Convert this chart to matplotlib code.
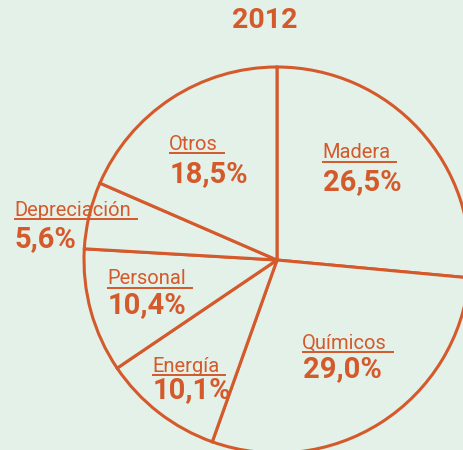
import matplotlib
matplotlib.use("Agg")
import matplotlib.pyplot as plt

# data (2012 cost breakdown)
categories = ["Madera", "Químicos", "Energía", "Personal", "Depreciación", "Otros"]
shares = [26.5, 29.0, 10.1, 10.4, 5.6, 18.5]
title = "2012"

# label anchor (left x, name y, value y) in pixel coords, y measured from top
label_pos = [
    (322, 153, 182),
    (302, 343, 369),
    (152, 366, 390),
    (107, 279, 305),
    (14, 210, 239),
    (169, 144, 174),
]

W, H = 463, 450
BG = "#e4f1e9"
ORANGE = "#d4592b"

plt.rcParams["font.family"] = ["Roboto", "DejaVu Sans"]

fig = plt.figure(figsize=(W / 100, H / 100), dpi=100, facecolor=BG)
ax = fig.add_axes([0, 0, 1, 1])
ax.set_facecolor(BG)

# pie centre / radius in pixels (y flipped so 0 is bottom)
cx, cy, r = 277, H - 260, 193
ax.pie(shares, startangle=90, counterclock=False, center=(cx, cy), radius=r,
       colors=[BG] * len(shares), frame=True,
       wedgeprops=dict(edgecolor=ORANGE, linewidth=2.2))

ax.set_xlim(0, W)
ax.set_ylim(0, H)
ax.set_aspect("equal")
ax.axis("off")

ax.text(265, H - 21, title, ha="center", va="center", fontsize=20.5,
        fontweight="bold", color=ORANGE)

name_texts = []
for cat, val, (x, yn, yv) in zip(categories, shares, label_pos):
    t = ax.text(x, H - yn, cat, ha="left", va="center", fontsize=14.5, color=ORANGE)
    name_texts.append((t, H - yn))
    pct = f"{val:.1f}".replace(".", ",") + "%"
    ax.text(x + 1, H - yv, pct, ha="left", va="center", fontsize=21,
            fontweight="bold", color=ORANGE)

# underline each category name, running a little past the text
fig.canvas.draw()
renderer = fig.canvas.get_renderer()
inv = ax.transData.inverted()
for t, y in name_texts:
    bb = t.get_window_extent(renderer)
    (x0, _), (x1, _) = inv.transform([(bb.x0, bb.y0), (bb.x1, bb.y0)])
    ax.plot([x0, x1 + 7], [y - 9, y - 9], color=ORANGE, lw=1.4,
            solid_capstyle="butt")

fig.savefig("out.png", dpi=100, facecolor=BG)
